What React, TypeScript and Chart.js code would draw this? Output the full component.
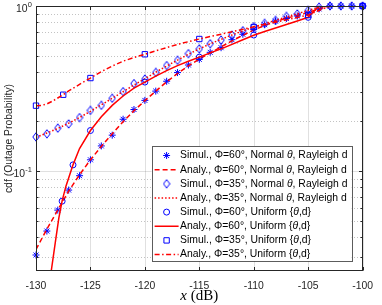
import { useEffect, useRef } from "react";
import { Chart, registerables } from "chart.js";

Chart.register(...registerables);

const FONT = '"Liberation Sans", Arial, Helvetica, sans-serif';
const SERIF = '"Liberation Serif", "Times New Roman", serif';
const AXIS = "#262626";
const BLUE = "#0000ff";
const RED = "#ff0000";

// x grid (dB) of the 1 dB simulation / analysis points
const xSteps = [
  -130, -129, -128, -127, -126, -125, -124, -123, -122, -121, -120, -119, -118, -117, -116, -115,
  -114, -113, -112, -111, -110, -109, -108, -107, -106, -105, -104, -103, -102, -101, -100,
];

const sim60Normal = [
  0.031, 0.0433, 0.058, 0.0767, 0.0937, 0.117, 0.142, 0.165, 0.206, 0.236, 0.268, 0.305, 0.35,
  0.395, 0.439, 0.475, 0.524, 0.559, 0.625, 0.674, 0.722, 0.77, 0.81, 0.84, 0.87, 0.91, 0.96, 1, 1,
  1, 1,
];
const ana60Normal = [
  0.0335, 0.0445, 0.058, 0.0755, 0.095, 0.117, 0.141, 0.168, 0.199, 0.232, 0.267, 0.305, 0.347,
  0.39, 0.434, 0.477, 0.52, 0.565, 0.615, 0.665, 0.715, 0.762, 0.805, 0.843, 0.877, 0.915, 0.96, 1,
  1, 1, 1,
];
const sim35Normal = [
  0.161, 0.168, 0.182, 0.193, 0.211, 0.233, 0.25, 0.276, 0.303, 0.339, 0.361, 0.396, 0.436, 0.469,
  0.515, 0.55, 0.591, 0.622, 0.667, 0.709, 0.75, 0.785, 0.818, 0.865, 0.895, 0.94, 0.985, 1, 1, 1,
  1,
];
const ana35Normal = [
  0.16, 0.17, 0.181, 0.195, 0.211, 0.23, 0.252, 0.276, 0.303, 0.332, 0.363, 0.397, 0.433, 0.47,
  0.51, 0.55, 0.59, 0.628, 0.667, 0.706, 0.745, 0.782, 0.818, 0.858, 0.898, 0.94, 0.985, 1, 1, 1, 1,
];

const sim60UniformX = [-127.6, -126.6, -125, -120, -115, -110, -105, -100];
const sim60Uniform = [0.0657, 0.109, 0.176, 0.346, 0.49, 0.667, 0.854, 1];

const ana60UniformX = [
  -128.65, -128.2, -127.9, -127.6, -127.25, -126.6, -126, -125, -124, -123, -122, -121, -120, -119,
  -118, -117, -116, -115, -114, -113, -112, -111, -110, -109, -108, -107, -106, -105, -104, -103,
  -102, -101, -100,
];
const ana60Uniform = [
  0.0235, 0.038, 0.052, 0.066, 0.081, 0.109, 0.137, 0.176, 0.213, 0.25, 0.285, 0.318, 0.346, 0.376,
  0.406, 0.435, 0.463, 0.49, 0.52, 0.55, 0.585, 0.625, 0.665, 0.7, 0.735, 0.772, 0.812, 0.855, 1, 1,
  1, 1, 1,
];

const sim35UniformX = [-130, -127.5, -125, -120, -115, -110, -105, -100];
const sim35Uniform = [0.249, 0.29, 0.366, 0.51, 0.631, 0.745, 0.882, 1];

const ana35UniformX = [
  -130, -129.5, -129, -128.5, -128, -127.5, -127, -126, -125, -124, -123, -122, -121, -120, -119,
  -118, -117, -116, -115, -114, -113, -112, -111, -110, -109, -108, -107, -106, -105, -104, -103,
  -102, -101, -100,
];
const ana35Uniform = [
  0.249, 0.25, 0.255, 0.265, 0.277, 0.29, 0.306, 0.335, 0.366, 0.4, 0.433, 0.463, 0.488, 0.51,
  0.535, 0.56, 0.585, 0.608, 0.631, 0.653, 0.675, 0.698, 0.722, 0.748, 0.772, 0.797, 0.824, 0.852,
  0.882, 0.94, 1, 1, 1, 1,
];

const xTicks = [-130, -125, -120, -115, -110, -105, -100];
const yMajorTicks = [0.1, 1];
const yMajorExp = ["-1", "0"];
const yMinorTicks = [0.03, 0.04, 0.05, 0.06, 0.07, 0.08, 0.09, 0.2, 0.3, 0.4, 0.5, 0.6, 0.7, 0.8, 0.9];

const legendLabels = [
  "Simul., Φ=60°, Normal θ, Rayleigh d",
  "Analy., Φ=60°, Normal θ, Rayleigh d",
  "Simul., Φ=35°, Normal θ, Rayleigh d",
  "Analy., Φ=35°, Normal θ, Rayleigh d",
  "Simul., Φ=60°, Uniform {θ,d}",
  "Analy., Φ=60°, Uniform {θ,d}",
  "Simul., Φ=35°, Uniform {θ,d}",
  "Analy., Φ=35°, Uniform {θ,d}",
];

const yTitle = "cdf (Outage Probability)";
const xTitleVar = "x";
const xTitleUnit = " (dB)";

const pts = (xs: number[], ys: number[]) => xs.map((x, i) => ({ x, y: ys[i] }));

function makeDiamond(): HTMLCanvasElement {
  const c = document.createElement("canvas");
  c.width = 8;
  c.height = 10;
  const g = c.getContext("2d")!;
  g.strokeStyle = BLUE;
  g.lineWidth = 1;
  g.beginPath();
  g.moveTo(4, 0.8);
  g.lineTo(7.2, 5);
  g.lineTo(4, 9.2);
  g.lineTo(0.8, 5);
  g.closePath();
  g.stroke();
  return c;
}

function drawMarker(ctx: CanvasRenderingContext2D, style: any, x: number, y: number, r: number) {
  ctx.save();
  ctx.strokeStyle = BLUE;
  ctx.lineWidth = 1;
  ctx.setLineDash([]);
  if (typeof style !== "string") {
    ctx.drawImage(style, x - style.width / 2, y - style.height / 2);
    ctx.restore();
    return;
  }
  ctx.beginPath();
  if (style === "star") {
    const d = r * Math.SQRT1_2;
    ctx.moveTo(x - r, y);
    ctx.lineTo(x + r, y);
    ctx.moveTo(x, y - r);
    ctx.lineTo(x, y + r);
    ctx.moveTo(x - d, y - d);
    ctx.lineTo(x + d, y + d);
    ctx.moveTo(x - d, y + d);
    ctx.lineTo(x + d, y - d);
  } else if (style === "circle") {
    ctx.arc(x, y, r, 0, Math.PI * 2);
  } else if (style === "rect") {
    const s = r * Math.SQRT1_2;
    ctx.rect(x - s, y - s, 2 * s, 2 * s);
  }
  ctx.stroke();
  ctx.restore();
}

const matlabPlugin = {
  id: "matlabLook",
  beforeDatasetsDraw(chart: any) {
    const { ctx, chartArea: a, scales } = chart;
    const x = scales.x;
    const y = scales.y;
    ctx.save();
    ctx.lineWidth = 1;
    ctx.strokeStyle = "rgba(38,38,38,0.14)";
    ctx.setLineDash([]);
    ctx.beginPath();
    for (const t of xTicks) {
      const px = Math.round(x.getPixelForValue(t)) + 0.5;
      ctx.moveTo(px, a.top);
      ctx.lineTo(px, a.bottom);
    }
    for (const t of yMajorTicks) {
      const py = Math.round(y.getPixelForValue(t)) + 0.5;
      ctx.moveTo(a.left, py);
      ctx.lineTo(a.right, py);
    }
    ctx.stroke();
    ctx.strokeStyle = "rgba(38,38,38,0.28)";
    ctx.setLineDash([1, 2]);
    ctx.beginPath();
    for (const t of yMinorTicks) {
      const py = Math.round(y.getPixelForValue(t)) + 0.5;
      ctx.moveTo(a.left, py);
      ctx.lineTo(a.right, py);
    }
    ctx.stroke();
    ctx.restore();
  },
  afterDatasetsDraw(chart: any) {
    const { ctx, chartArea: a, scales } = chart;
    const x = scales.x;
    const y = scales.y;
    ctx.save();
    ctx.strokeStyle = AXIS;
    ctx.lineWidth = 1;
    ctx.setLineDash([]);
    const L = Math.round(a.left) + 0.5;
    const R = Math.round(a.right) - 0.5;
    const T = Math.round(a.top) + 0.5;
    const B = Math.round(a.bottom) - 0.5;
    ctx.strokeRect(L, T, R - L, B - T);
    ctx.beginPath();
    for (const t of xTicks) {
      const px = Math.round(x.getPixelForValue(t)) + 0.5;
      ctx.moveTo(px, B);
      ctx.lineTo(px, B - 3.5);
      ctx.moveTo(px, T);
      ctx.lineTo(px, T + 3.5);
    }
    for (const t of yMajorTicks) {
      const py = Math.round(y.getPixelForValue(t)) + 0.5;
      ctx.moveTo(L, py);
      ctx.lineTo(L + 3.5, py);
      ctx.moveTo(R, py);
      ctx.lineTo(R - 3.5, py);
    }
    for (const t of yMinorTicks) {
      const py = Math.round(y.getPixelForValue(t)) + 0.5;
      ctx.moveTo(L, py);
      ctx.lineTo(L + 2, py);
      ctx.moveTo(R, py);
      ctx.lineTo(R - 2, py);
    }
    ctx.stroke();

    ctx.fillStyle = AXIS;
    yMajorTicks.forEach((t, i) => {
      const py = y.getPixelForValue(t);
      ctx.font = `7.5px ${FONT}`;
      const ew = ctx.measureText(yMajorExp[i]).width;
      const right = a.left - 4;
      ctx.textAlign = "left";
      ctx.textBaseline = "alphabetic";
      ctx.fillText(yMajorExp[i], right - ew, py + 0.5);
      ctx.font = `10.4px ${FONT}`;
      ctx.textAlign = "right";
      ctx.textBaseline = "middle";
      ctx.fillText("10", right - ew - 0.3, py + 3);
    });

    ctx.textBaseline = "alphabetic";
    ctx.textAlign = "left";
    ctx.fillStyle = "#000";
    ctx.font = `italic 15px ${SERIF}`;
    const w1 = ctx.measureText(xTitleVar).width;
    ctx.font = `15px ${SERIF}`;
    const w2 = ctx.measureText(xTitleUnit).width;
    const cx = (a.left + a.right) / 2;
    const bx = cx - (w1 + w2) / 2;
    ctx.font = `italic 15px ${SERIF}`;
    ctx.fillText(xTitleVar, bx, 300);
    ctx.font = `15px ${SERIF}`;
    ctx.fillText(xTitleUnit, bx + w1, 300);

    const lw = 200;
    const lh = 115;
    const lr = a.right - 11;
    const lb = a.bottom - 10;
    const lx = lr - lw;
    const ly = lb - lh;
    ctx.fillStyle = "#fff";
    ctx.fillRect(lx, ly, lw, lh);
    ctx.strokeStyle = "rgba(38,38,38,0.75)";
    ctx.lineWidth = 1;
    ctx.strokeRect(Math.round(lx) + 0.5, Math.round(ly) + 0.5, lw, lh);
    const datasets = chart.data.datasets;
    datasets.forEach((ds: any, i: number) => {
      const iy = ly + 9.5 + i * 14.15;
      if (ds.showLine === false) {
        drawMarker(ctx, ds.pointStyle, lx + 15, iy, ds.pointRadius);
      } else {
        ctx.save();
        ctx.strokeStyle = ds.borderColor;
        ctx.lineWidth = ds.borderWidth;
        ctx.setLineDash(ds.borderDash || []);
        ctx.beginPath();
        ctx.moveTo(lx + 3, iy);
        ctx.lineTo(lx + 27, iy);
        ctx.stroke();
        ctx.restore();
      }
      const parts = String(ds.label).split("θ");
      let tx = lx + 28.5;
      ctx.fillStyle = "#000";
      ctx.textBaseline = "middle";
      ctx.textAlign = "left";
      parts.forEach((p: string, k: number) => {
        ctx.font = `10.4px ${FONT}`;
        ctx.fillText(p, tx, iy);
        tx += ctx.measureText(p).width;
        if (k < parts.length - 1) {
          ctx.font = `italic 10.4px ${FONT}`;
          ctx.fillText("θ", tx, iy);
          tx += ctx.measureText("θ").width;
        }
      });
    });
    ctx.restore();
  },
};

export default function App() {
  const ref = useRef<HTMLCanvasElement | null>(null);
  useEffect(() => {
    document.body.style.margin = "0";
    if (!ref.current) return;
    const diamond = makeDiamond();
    const lineDs = (label: string, data: any, dash: number[], order: number) => ({
      label,
      data,
      borderColor: RED,
      backgroundColor: RED,
      borderWidth: 1.5,
      borderDash: dash,
      pointRadius: 0,
      showLine: true,
      tension: 0,
      order,
    });
    const markDs = (label: string, data: any, style: any, r: number, order: number) => ({
      label,
      data,
      showLine: false,
      pointStyle: style,
      pointRadius: r,
      pointBorderColor: BLUE,
      pointBackgroundColor: "rgba(0,0,0,0)",
      pointBorderWidth: 1,
      borderColor: BLUE,
      clip: false,
      order,
    });
    const chart = new Chart(ref.current, {
      type: "scatter",
      data: {
        datasets: [
          markDs(legendLabels[0], pts(xSteps, sim60Normal), "star", 3.5, 8),
          lineDs(legendLabels[1], pts(xSteps, ana60Normal), [5, 3], 7),
          markDs(legendLabels[2], pts(xSteps, sim35Normal), diamond, 3.5, 6),
          lineDs(legendLabels[3], pts(xSteps, ana35Normal), [1.5, 2], 5),
          markDs(legendLabels[4], pts(sim60UniformX, sim60Uniform), "circle", 3, 4),
          lineDs(legendLabels[5], pts(ana60UniformX, ana60Uniform), [], 3),
          markDs(legendLabels[6], pts(sim35UniformX, sim35Uniform), "rect", 3.8, 2),
          lineDs(legendLabels[7], pts(ana35UniformX, ana35Uniform), [5, 2.5, 1.5, 2.5], 1),
        ] as any,
      },
      options: {
        animation: false,
        responsive: false,
        devicePixelRatio: 1,
        layout: { padding: { top: 6, right: 10, left: 0, bottom: 0 } },
        plugins: { legend: { display: false }, tooltip: { enabled: false } },
        events: [],
        scales: {
          x: {
            type: "linear",
            min: -130,
            max: -100,
            grid: { display: false, drawTicks: false },
            border: { display: false },
            ticks: {
              stepSize: 5,
              color: AXIS,
              font: { family: FONT, size: 10.4 },
              padding: 9,
              maxRotation: 0,
              autoSkip: false,
            },
            afterFit: (s: any) => {
              s.height = 34;
            },
          },
          y: {
            type: "logarithmic",
            min: 0.0248,
            max: 1,
            grid: { display: false, drawTicks: false },
            border: { display: false },
            ticks: { display: false },
            title: {
              display: true,
              text: yTitle,
              color: AXIS,
              font: { family: FONT, size: 10.4 },
              padding: { top: 3, bottom: 0 },
            },
            afterFit: (s: any) => {
              s.width = 36;
            },
          },
        },
      } as any,
      plugins: [matlabPlugin],
    });
    return () => chart.destroy();
  }, []);
  return (
    <div style={{ width: 382, height: 305, background: "#fff" }}>
      <canvas ref={ref} width={382} height={305} />
    </div>
  );
}
